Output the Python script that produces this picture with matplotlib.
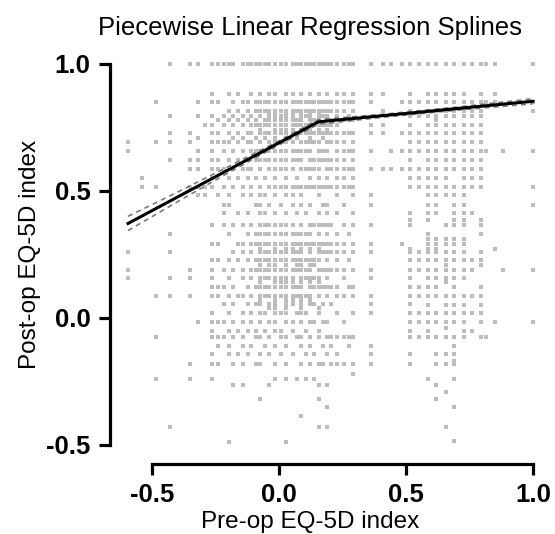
import matplotlib
matplotlib.use('Agg')
import matplotlib.pyplot as plt

plt.rcParams['font.family'] = ['Liberation Sans', 'DejaVu Sans']

# pre-op EQ-5D value of each column of points
pre_cols = [-0.594, -0.540, -0.484, -0.429, -0.349, -0.319, -0.290,
            -0.264, -0.239, -0.217, -0.196, -0.181, -0.160, -0.143, -0.122,
            -0.108, -0.090, -0.074, -0.056, -0.040, -0.016, 0.010, 0.029,
            0.055, 0.071, 0.088, 0.106, 0.122, 0.139, 0.159, 0.172, 0.189,
            0.206, 0.227, 0.258, 0.275, 0.293, 0.362, 0.410, 0.440, 0.484,
            0.516, 0.552, 0.587, 0.620, 0.656, 0.691, 0.727, 0.760, 0.796,
            0.815, 0.850, 0.883, 1.000]

# post-op EQ-5D values found in each column
post_by_col = [
    [0.691, 0.656, 0.258, 0.189, 0.159],
    [0.552, 0.516],
    [0.85, 0.691, 0.516, 0.088, -0.074, -0.239],
    [1.0, 0.796, 0.727, 0.691, 0.62, 0.331, 0.258, 0.159, 0.088, -0.429],
    [1.0, 0.727, 0.691, 0.62, 0.587, 0.516, 0.189, 0.159, 0.088, -0.181, -0.239],
    [1.0, 0.85, 0.796, 0.71, 0.656, 0.62, 0.587, 0.516, 0.485, -0.016],
    [0.76, 0.516, 0.485],
    [1.0, 0.883, 0.85, 0.796, 0.76, 0.727, 0.691, 0.656, 0.62, 0.587, 0.552, 0.516,
     0.366, 0.293, 0.227, 0.189, 0.159, 0.122, 0.088, 0.02, -0.016, -0.05, -0.074,
     -0.143, -0.181, -0.239],
    [1.0, 0.85, 0.779, 0.727, 0.691, 0.62, 0.587, 0.485, 0.293, 0.227, 0.122, 0.088,
     -0.016, -0.074, -0.11, -0.181],
    [1.0, 0.796, 0.76, 0.691, 0.656, 0.587, 0.516, 0.446, 0.412, 0.366, 0.189, 0.122,
     0.055, -0.016, -0.074],
    [1.0, 0.883, 0.815, 0.779, 0.727, 0.691, 0.62, 0.552, 0.485, 0.446, 0.331, 0.227,
     0.159, 0.088, 0.02, -0.05, -0.11, -0.143, -0.49],
    [1.0, 0.85, 0.796, 0.76, 0.71, 0.656, 0.587, 0.516, 0.366, 0.258, 0.189, 0.122,
     0.055, -0.016, -0.074, -0.181, -0.264],
    [0.883, 0.815, 0.779, 0.727, 0.691, 0.62, 0.552, 0.412, 0.293, 0.227, 0.088,
     -0.05, -0.143],
    [1.0, 0.85, 0.796, 0.76, 0.71, 0.656, 0.587, 0.516, 0.485, 0.366, 0.293, 0.258,
     0.189, 0.159, 0.088, 0.02, -0.016, -0.074, -0.11, -0.181, -0.264],
    [1.0, 0.85, 0.815, 0.779, 0.727, 0.691, 0.62, 0.587, 0.552, 0.412, 0.331, 0.227,
     0.122, 0.055, -0.05, -0.143],
    [1.0, 0.883, 0.796, 0.76, 0.727, 0.691, 0.656, 0.587, 0.516, 0.485, 0.366, 0.293,
     0.258, 0.189, 0.159, 0.088, 0.02, -0.016, -0.11],
    [1.0, 0.85, 0.815, 0.779, 0.76, 0.71, 0.656, 0.62, 0.552, 0.446, 0.331, 0.293,
     0.227, 0.189, 0.122, 0.055, -0.05, -0.074, -0.181],
    [1.0, 0.883, 0.85, 0.815, 0.796, 0.76, 0.727, 0.691, 0.656, 0.62, 0.587, 0.516,
     0.485, 0.446, 0.412, 0.366, 0.331, 0.293, 0.258, 0.227, 0.189, 0.159, 0.122,
     0.088, 0.055, 0.02, -0.016, -0.074, -0.143, -0.181, -0.319,
     0.273, 0.21, 0.14, 0.07, 0.74],
    [1.0, 0.85, 0.815, 0.779, 0.76, 0.727, 0.71, 0.656, 0.62, 0.552, 0.485, 0.412,
     0.366, 0.331, 0.293, 0.258, 0.227, 0.189, 0.159, 0.122, 0.088, 0.02, -0.05, -0.11],
    [1.0, 0.883, 0.85, 0.815, 0.796, 0.779, 0.76, 0.727, 0.691, 0.656, 0.62, 0.587,
     0.516, 0.446, 0.366, 0.331, 0.293, 0.258, 0.227, 0.189, 0.159, 0.122, 0.088,
     0.055, -0.016, -0.074, -0.143, -0.264, 0.21, 0.04, 0.80],
    [1.0, 0.883, 0.85, 0.815, 0.796, 0.779, 0.76, 0.727, 0.71, 0.691, 0.656, 0.62,
     0.587, 0.552, 0.516, 0.485, 0.412, 0.366, 0.331, 0.293, 0.258, 0.227, 0.189,
     0.159, 0.122, 0.088, 0.055, 0.02, -0.016, -0.05, -0.11, -0.181, -0.239,
     0.273, 0.21, 0.14, 0.07, 0.04, 0.74, 0.80],
    [1.0, 0.85, 0.815, 0.796, 0.779, 0.76, 0.727, 0.691, 0.656, 0.62, 0.587, 0.516,
     0.446, 0.366, 0.331, 0.293, 0.258, 0.227, 0.189, 0.159, 0.122, 0.088, 0.02,
     -0.05, -0.074, -0.143, 0.14, 0.74],
    [1.0, 0.883, 0.85, 0.815, 0.796, 0.779, 0.76, 0.727, 0.71, 0.691, 0.656, 0.62,
     0.587, 0.552, 0.516, 0.485, 0.412, 0.366, 0.331, 0.293, 0.258, 0.227, 0.189,
     0.159, 0.122, 0.088, 0.055, 0.02, -0.016, -0.074, -0.11, -0.181, -0.239, -0.49,
     0.273, 0.21, 0.14, 0.07, 0.04, 0.74, 0.80],
    [1.0, 0.883, 0.85, 0.815, 0.796, 0.779, 0.76, 0.727, 0.691, 0.656, 0.62, 0.587,
     0.516, 0.485, 0.446, 0.366, 0.331, 0.293, 0.258, 0.227, 0.189, 0.159, 0.122,
     0.088, 0.055, -0.016, -0.05, -0.143, 0.273, 0.14, 0.07, 0.74, 0.80],
    [1.0, 0.85, 0.815, 0.779, 0.76, 0.727, 0.71, 0.656, 0.62, 0.552, 0.516, 0.412,
     0.331, 0.293, 0.258, 0.227, 0.189, 0.122, 0.088, 0.02, -0.074, -0.239, 0.21],
    [1.0, 0.883, 0.85, 0.815, 0.796, 0.779, 0.76, 0.727, 0.691, 0.656, 0.62, 0.587,
     0.516, 0.485, 0.446, 0.366, 0.331, 0.293, 0.258, 0.227, 0.189, 0.159, 0.122,
     0.088, 0.055, 0.02, -0.016, -0.074, -0.11, -0.181, -0.385,
     0.273, 0.21, 0.14, 0.07, 0.04, 0.74, 0.80],
    [1.0, 0.85, 0.815, 0.796, 0.76, 0.727, 0.691, 0.656, 0.587, 0.516, 0.412, 0.331,
     0.293, 0.227, 0.189, 0.159, 0.088, 0.02, -0.05, -0.143, -0.239, 0.74],
    [1.0, 0.883, 0.85, 0.815, 0.796, 0.779, 0.76, 0.727, 0.71, 0.691, 0.656, 0.62,
     0.587, 0.552, 0.516, 0.446, 0.366, 0.331, 0.293, 0.258, 0.227, 0.189, 0.159,
     0.122, 0.088, 0.055, -0.016, -0.074, -0.11, -0.181,
     0.273, 0.21, 0.14, 0.07, 0.74, 0.80],
    [1.0, 0.85, 0.815, 0.779, 0.76, 0.727, 0.691, 0.62, 0.587, 0.516, 0.366, 0.293,
     0.227, 0.159, 0.122, 0.055, -0.016, -0.143, -0.239, 0.21],
    [1.0, 0.883, 0.85, 0.815, 0.796, 0.779, 0.76, 0.727, 0.691, 0.656, 0.62, 0.587,
     0.552, 0.516, 0.485, 0.412, 0.366, 0.331, 0.293, 0.258, 0.227, 0.189, 0.159,
     0.122, 0.088, 0.02, -0.05, -0.074, -0.181, -0.264, -0.319, -0.429,
     0.273, 0.14, 0.04, 0.74, 0.80],
    [1.0, 0.85, 0.815, 0.796, 0.76, 0.727, 0.71, 0.656, 0.62, 0.516, 0.446, 0.366,
     0.293, 0.258, 0.189, 0.122, 0.055, -0.016, -0.11, -0.181],
    [1.0, 0.883, 0.85, 0.815, 0.796, 0.779, 0.76, 0.727, 0.691, 0.656, 0.62, 0.587,
     0.552, 0.516, 0.446, 0.412, 0.366, 0.331, 0.293, 0.258, 0.227, 0.189, 0.159,
     0.122, 0.088, -0.016, -0.074, -0.143, -0.264, -0.349, -0.429, 0.74],
    [1.0, 0.85, 0.815, 0.779, 0.76, 0.727, 0.691, 0.62, 0.587, 0.516, 0.366, 0.293,
     0.258, 0.189, 0.122, 0.055, -0.074, -0.11, -0.181],
    [1.0, 0.883, 0.85, 0.815, 0.796, 0.76, 0.727, 0.691, 0.656, 0.62, 0.587, 0.552,
     0.516, 0.485, 0.412, 0.331, 0.293, 0.258, 0.227, 0.189, 0.122, 0.088, 0.02,
     -0.074, -0.143, -0.181],
    [1.0, 0.883, 0.85, 0.815, 0.779, 0.727, 0.691, 0.656, 0.62, 0.587, 0.552, 0.516,
     0.446, 0.366, 0.293, 0.258, 0.189, 0.159, 0.088, -0.016, -0.074, -0.181],
    [1.0, 0.85, 0.796, 0.727, 0.656, 0.587, 0.516, 0.331, 0.227, 0.122, -0.074, -0.11],
    [1.0, 0.883, 0.85, 0.815, 0.779, 0.727, 0.691, 0.656, 0.62, 0.587, 0.552, 0.516,
     0.485, 0.412, 0.366, 0.293, 0.258, 0.189, 0.122, 0.088, 0.02, -0.074, -0.181,
     -0.22],
    [1.0, 0.883, 0.85, 0.76, 0.727, 0.656, 0.587, 0.485, 0.446, 0.366, 0.293, 0.258,
     0.189, 0.159, 0.088, 0.055, 0.02, -0.11, -0.143, -0.181],
    [1.0, 0.883, 0.815, 0.76, 0.727, 0.587],
    [1.0, 0.656, 0.587],
    [1.0, 0.85, 0.727, 0.656, 0.587, 0.293],
    [1.0, 0.883, 0.85, 0.815, 0.796, 0.76, 0.727, 0.691, 0.656, 0.62, 0.587, 0.552,
     0.516, 0.412, 0.385, 0.366, 0.273, 0.258, 0.227, 0.189, 0.159, 0.122, 0.088,
     0.055, 0.02, -0.016, -0.05, -0.074, -0.143, -0.181],
    [1.0, 0.85, 0.796, 0.727, 0.691, 0.656, 0.587, 0.552, 0.516, 0.258, 0.227, 0.189,
     0.122, 0.088, 0.02, -0.016, -0.074],
    [1.0, 0.883, 0.85, 0.815, 0.796, 0.76, 0.727, 0.691, 0.656, 0.62, 0.587, 0.552,
     0.516, 0.485, 0.446, 0.412, 0.385, 0.331, 0.31, 0.293, 0.273, 0.258, 0.227,
     0.189, 0.159, 0.122, 0.088, 0.05, 0.02, -0.016, -0.05, -0.074, -0.239],
    [1.0, 0.883, 0.85, 0.815, 0.796, 0.779, 0.76, 0.727, 0.691, 0.656, 0.62, 0.587,
     0.552, 0.516, 0.485, 0.446, 0.412, 0.31, 0.293, 0.273, 0.258, 0.227, 0.189,
     0.159, 0.122, 0.088, 0.02, -0.016, -0.074, -0.143, -0.181, -0.264, -0.319],
    [1.0, 0.883, 0.85, 0.815, 0.796, 0.76, 0.727, 0.691, 0.656, 0.62, 0.587, 0.552,
     0.516, 0.485, 0.366, 0.31, 0.293, 0.258, 0.227, 0.21, 0.189, 0.159, 0.14,
     0.088, 0.05, 0.02, -0.016, -0.04, -0.074, -0.143, -0.181, -0.292, -0.429],
    [1.0, 0.883, 0.85, 0.815, 0.796, 0.76, 0.727, 0.691, 0.656, 0.62, 0.587, 0.516,
     0.485, 0.446, 0.412, 0.385, 0.366, 0.31, 0.293, 0.258, 0.227, 0.189, 0.159,
     0.122, 0.088, 0.05, 0.02, -0.016, -0.074, -0.11, -0.143, -0.17, -0.181, -0.239,
     -0.349, -0.484],
    [1.0, 0.883, 0.85, 0.815, 0.796, 0.76, 0.727, 0.691, 0.656, 0.62, 0.587, 0.552,
     0.516, 0.485, 0.446, 0.412, 0.385, 0.366, 0.31, 0.293, 0.258, 0.227, 0.189,
     0.159, 0.088, 0.05, 0.02, -0.016, -0.05, -0.074],
    [1.0, 0.85, 0.815, 0.796, 0.76, 0.727, 0.691, 0.656, 0.62, 0.587, 0.552, 0.516,
     0.412, 0.227, 0.189, 0.088, 0.02, -0.05],
    [1.0, 0.883, 0.85, 0.815, 0.796, 0.76, 0.727, 0.691, 0.656, 0.62, 0.587, 0.552,
     0.516, 0.385, 0.366, 0.331, 0.258, 0.227, 0.21, 0.122, 0.088, 0.05, 0.02,
     -0.016, -0.074],
    [1.0, 0.85, 0.656, -0.074],
    [1.0, 0.883, 0.85, 0.273, -0.016],
    [0.656, 0.189],
    [1.0, 0.85, 0.815, 0.656, 0.516, 0.446, 0.189, -0.016],
]

# fitted spline (one knot) and its confidence band
fit_x = [-0.594, 0.155, 1.0]
fit_y = [0.372, 0.772, 0.853]
ci_x = [-0.594, -0.4, -0.2, 0.0, 0.155, 0.4, 0.7, 1.0]
ci_hi = [0.400, 0.495, 0.595, 0.697, 0.781, 0.801, 0.830, 0.863]
ci_lo = [0.344, 0.457, 0.571, 0.681, 0.763, 0.789, 0.818, 0.843]

ticks = [-0.5, 0.0, 0.5, 1.0]
tick_labels = ['-0.5', '0.0', '0.5', '1.0']

pre = [x for x, ys in zip(pre_cols, post_by_col) for _ in ys]
post = [y for ys in post_by_col for y in ys]

fig = plt.figure(figsize=(5.55, 5.34), dpi=100)
ax = fig.add_axes([0.1982, 0.1311, 0.7986, 0.7777])

# points, band, fit
ax.scatter(pre, post, s=10.5, marker='s', color='#bdbdbd', linewidths=0, zorder=1)
ax.plot(ci_x, ci_hi, color='#7a7a7a', lw=1.2, ls=(0, (3, 2.5)), zorder=2)
ax.plot(ci_x, ci_lo, color='#7a7a7a', lw=1.2, ls=(0, (3, 2.5)), zorder=2)
ax.plot(fit_x, fit_y, color='black', lw=2.2, zorder=3)

ax.set_xlim(-0.665, 1.08)
ax.set_ylim(-0.575, 1.06)

# R style detached axes
for side in ['top', 'right']:
    ax.spines[side].set_visible(False)
for side in ['left', 'bottom']:
    ax.spines[side].set_linewidth(2.3)
    ax.spines[side].set_bounds(-0.5, 1.0)
    ax.spines[side].set_capstyle('projecting')

ax.set_xticks(ticks)
ax.set_xticklabels(tick_labels)
ax.set_yticks(ticks)
ax.set_yticklabels(tick_labels)
ax.tick_params(length=8, width=2.3, labelsize=18.5)
ax.tick_params(axis='x', pad=6)
ax.tick_params(axis='y', pad=6)
for lab in ax.get_xticklabels() + ax.get_yticklabels():
    lab.set_fontweight('bold')

fig.text(310 / 555, 1 - 28 / 534, 'Piecewise Linear Regression Splines',
         ha='center', va='center', fontsize=18.5)
fig.text(310 / 555, 1 - 528 / 534, 'Pre-op EQ-5D index',
         ha='center', va='baseline', fontsize=17.5)
fig.text(30 / 555, 1 - 254 / 534, 'Post-op EQ-5D index',
         ha='center', va='center', rotation=90, fontsize=17.5)

plt.savefig('out.png', dpi=100)
